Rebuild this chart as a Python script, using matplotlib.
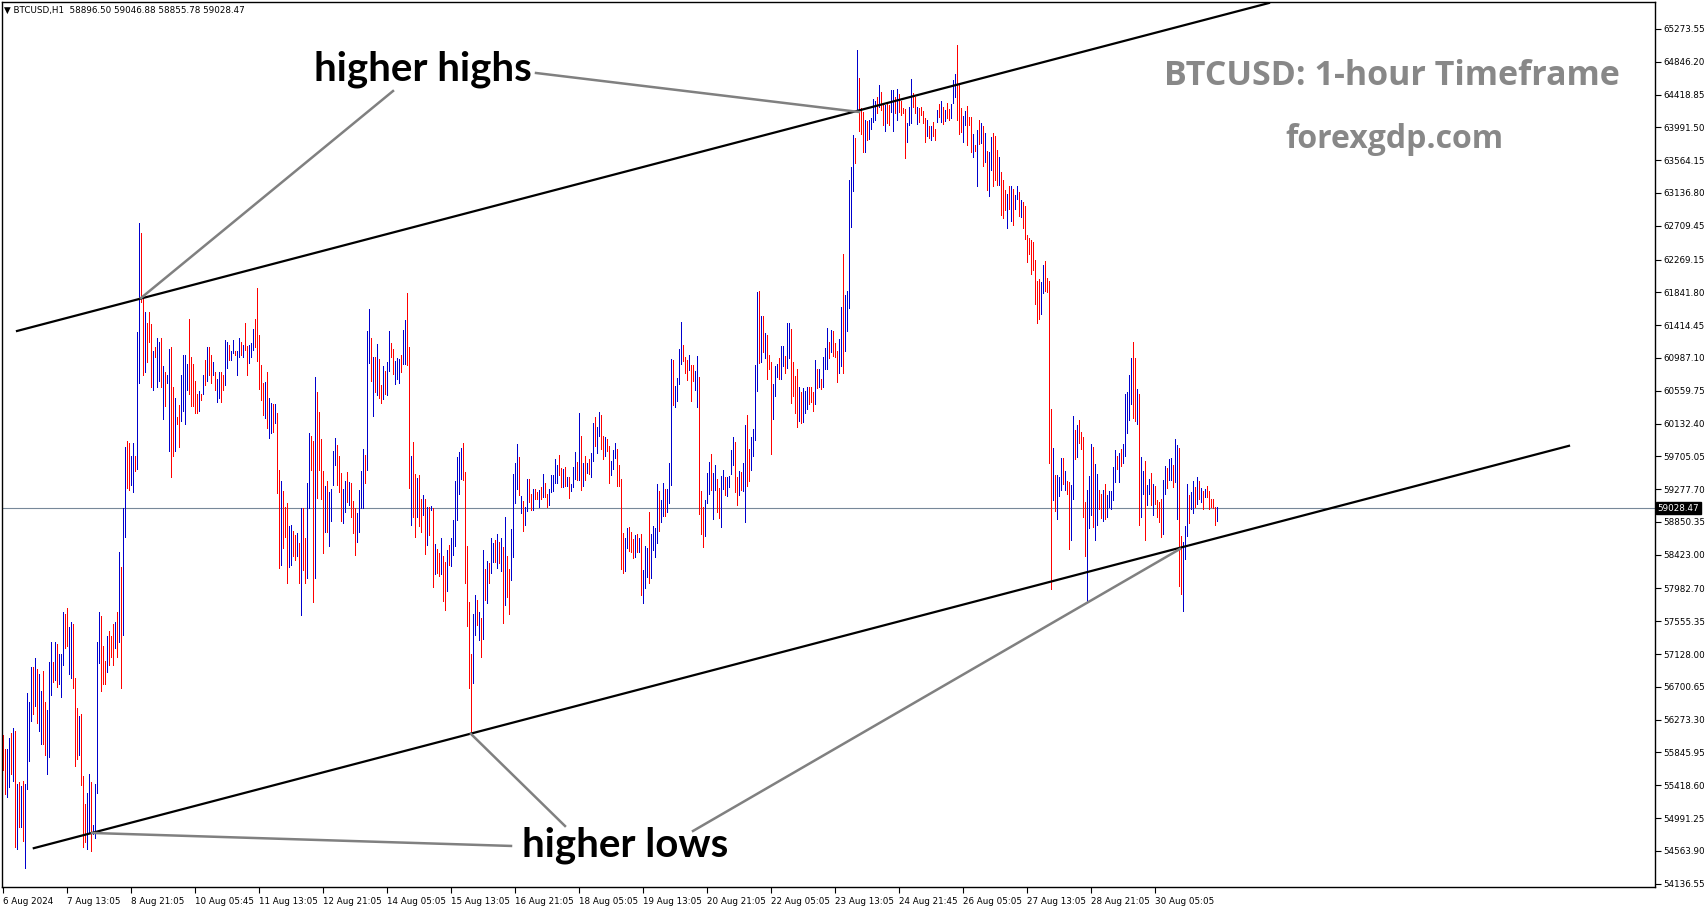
import matplotlib
matplotlib.use("Agg")
import matplotlib.pyplot as plt
import numpy as np

# header of the MT4 chart window
header = "BTCUSD,H1  58896.50 59046.88 58855.78 59028.47"
last_price = 59028.47

# hourly bars (high / low), 6 Aug 2024 00:00 -> 30 Aug 2024 midday
highs = [
    # 6 Aug - 8 Aug
    56080, 55890, 55890, 56040, 56100, 56170, 56130, 55430, 55460, 55410,
    55480, 55430, 56620, 56510, 56960, 56960, 57080, 56930, 56875, 56650,
    56910, 56510, 56400, 57025, 57290, 57025, 57290, 57260, 57125, 57135,
    57680, 57655, 57735, 57485, 57540, 57515, 56820, 56430, 56320, 56345,
    55540, 55175, 55315, 55565, 55465, 54900, 55430, 57290, 57680, 57625,
    57235, 57040, 57360, 57430, 57360, 57515, 57540, 57680, 58460, 58265,
    59035, 59825, 59910, 59880, 59715, 59880, 59715, 61330, 62750, 62610,
    61770, 61580, 61440, 61580, 61425, 61080, 61130, 61245, 61190, 61245,
    60880, 60800, 60770, 61105, 61130, 60605, 60465, 60215, 60380, 60770,
    61020, 61020, 60910, 61495, 60995, 60910, 60690, 60520, 60550, 60520,
    60770, 60965, 61130, 61130, 61020, 60940, 60800, 60715, 60800, 60800,
    60770, 61215, 61190, 61160, 61075, 61215, 61075, 61075, 61245, 61190,
    61160,
    # 11 Aug - 15 Aug
    61438, 61143, 61156, 61186, 61360, 61490, 61894, 61286, 60895, 60656,
    60678, 60808, 60461, 60396, 60383, 60387, 60266, 59527, 59388, 59258,
    59050, 59093, 58798, 58811, 58737, 58680, 58702, 58580, 59028, 59028,
    58646, 59353, 60005, 59970, 59910, 60735, 60539, 60287, 59931, 59519,
    59319, 59388, 59245, 59275, 59779, 59940, 59853, 59714, 59492, 59275,
    59388, 59505, 59375, 59353, 59128, 59028, 58972, 59266, 59519, 59797,
    59723, 61338, 61620, 61243, 61004, 60995, 61169, 60969, 60635, 60882,
    60821, 60938, 61338, 61186, 61100, 60952, 60982, 60969, 61026, 61351,
    61482, 61838, 61134, 59710, 59896, 59475, 59419, 59462, 59145, 59202,
    59145, 59041, 59050, 59058, 59028, 58563, 58494, 58450, 58637, 58407,
    58333, 58485, 58550, 58637, 58876, 59388, 59701, 59766, 59810, 59875,
    59505, 58537, 57812, 57130, 57651, 57899, 57834, 57681, 57595, 58485,
    58233, 58342, 58311,
    # 16 Aug - 20 Aug
    58636, 58580, 58615, 58693, 58593, 58636, 58528, 58919, 58406, 58233,
    58754, 59475, 59614, 59866, 59701, 59188, 59127, 59049, 59405, 59405,
    59214, 59275, 59275, 59244, 59266, 59301, 59475, 59362, 59214, 59275,
    59462, 59462, 59666, 59592, 59722, 59549, 59536, 59562, 59432, 59432,
    59344, 59562, 59757, 59636, 60265, 59970, 59622, 59709, 59622, 59666,
    59753, 60135, 60222, 60083, 60287, 60243, 59970, 59953, 59926, 59839,
    59649, 59788, 59883, 59796, 59592, 59405, 58710, 58636, 58767, 58780,
    58723, 58623, 58680, 58693, 58636, 58689, 58224, 58537, 58506, 58984,
    58693, 58797, 58767, 59344, 59257, 59136, 59362, 59275, 59275, 59622,
    60969, 60960, 60621, 60721, 61099, 61459, 61155, 60995, 60960, 61025,
    60895, 60895, 60821, 61012, 60743, 59257, 59049, 59136, 59492, 59636,
    59735, 59492, 59592, 59405, 59288, 59449, 59527, 59431, 59431, 59449,
    59788, 59961,
    # 21 Aug - 25 Aug
    59889, 59439, 59514, 59499, 59614, 60113, 60238, 59799, 59963, 60063,
    60897, 61845, 61860, 61536, 61536, 61311, 61286, 61027, 60937, 60647,
    60887, 60912, 60987, 61136, 61136, 61012, 61436, 61436, 61361, 60937,
    60747, 60847, 60612, 60547, 60597, 60562, 60612, 60612, 60612, 60537,
    60962, 60837, 60837, 60712, 60997, 61111, 61376, 61196, 61346, 61336,
    61186, 61077, 61236, 61645, 62345, 61810, 61860, 63308, 63473, 63892,
    63857, 65005, 64641, 64242, 64192, 64092, 64072, 64082, 64107, 64356,
    64341, 64391, 64541, 64456, 64306, 64282, 64321, 64282, 64481, 64481,
    64391, 64491, 64431, 64341, 64242, 64232, 64042, 64257, 64621, 64441,
    64391, 64257, 64242, 64257, 64207, 64107, 64082, 64007, 64007, 64057,
    63972, 64222, 64291, 64341, 64257, 64222, 64306, 64232, 64291, 64606,
    64681, 65070, 64541, 64242, 64142, 64207, 64272, 64132, 64122, 63907,
    63757, 63957, 64082,
    # 26 Aug - 30 Aug
    64042, 64007, 63922, 63682, 63672, 63872, 63922, 63882, 63692, 63607,
    63408, 63308, 63173, 63123, 63233, 63223, 63193, 63108, 63233, 63143,
    63043, 63023, 62973, 62594, 62544, 62524, 62494, 62260, 61995, 62010,
    61975, 62195, 62245, 62025, 61985, 60328, 59814, 59464, 59464, 59439,
    59679, 59679, 59514, 59379, 59364, 59329, 60228, 60048, 60113, 60178,
    60028, 59963, 59115, 59265, 59449, 59864, 59829, 59599, 59479, 59265,
    59215, 59265, 59349, 59200, 59250, 59250, 59564, 59789, 59714, 59749,
    59799, 59864, 60513, 60548, 60762, 60987, 61196, 60987, 60587, 60513,
    59699, 59514, 59649, 59329, 59414, 59489, 59339, 59314, 59130, 59115,
    59150, 59399, 59579, 59549, 59664, 59679, 59589, 59928, 59849, 59814,
    58665, 58590, 58800, 59349, 59200, 59240, 59389, 59299, 59439, 59379,
    59290, 59250, 59280, 59314, 59250, 59150, 59150, 59050, 59047,
]

lows = [
    # 6 Aug - 8 Aug
    55620, 55300, 55260, 55400, 55565, 55480, 54620, 54590, 54870, 54870,
    54690, 54340, 55370, 55730, 56260, 56345, 56455, 56230, 56120, 55955,
    55955, 55815, 55565, 55790, 56595, 56760, 56790, 56705, 56735, 56570,
    56985, 57210, 57235, 56875, 56820, 56680, 55675, 55760, 55815, 55425,
    54620, 54675, 54590, 54815, 54563, 54785, 54730, 55315, 57015, 56650,
    56735, 56735, 56900, 56985, 57095, 56985, 57210, 57095, 57290, 56680,
    57375, 58655, 59295, 59270, 59325, 59240, 59520, 59545, 60660, 61720,
    60770, 60800, 60940, 61190, 60605, 60575, 60995, 60605, 60690, 60605,
    60190, 60355, 60660, 59770, 59435, 59715, 59770, 60130, 59825, 60160,
    60300, 60130, 60575, 60520, 60355, 60355, 60270, 60270, 60300, 60440,
    60520, 60630, 60690, 60770, 60660, 60770, 60575, 60410, 60465, 60410,
    60575, 60630, 60855, 60965, 60965, 61050, 61020, 60770, 60995, 61020,
    60995,
    # 11 Aug - 15 Aug
    61091, 60765, 60917, 60995, 61091, 61126, 60952, 60578, 60439, 60244,
    60200, 60070, 59940, 60005, 60027, 60144, 59232, 58246, 58290, 58507,
    58650, 58050, 58268, 58290, 58407, 58355, 58407, 58059, 57638, 58224,
    58059, 58116, 59028, 59527, 57803, 58116, 59158, 59527, 59145, 58450,
    58724, 58724, 58537, 58867, 59332, 59592, 59332, 59245, 58867, 58841,
    58984, 59115, 59071, 58920, 58711, 58420, 58594, 58724, 59028, 59028,
    59362, 59527, 60917, 60691, 60231, 60548, 60504, 60461, 60396, 60448,
    60517, 60504, 60821, 60995, 60778, 60648, 60708, 60665, 60808, 60908,
    60908, 60895, 59288, 58811, 58920, 58650, 58920, 58798, 58724, 58941,
    58433, 58550, 58680, 59006, 58007, 58172, 58190, 58146, 58172, 57825,
    57703, 57955, 58290, 58277, 58420, 58537, 58876, 59215, 59406, 59397,
    58050, 57495, 56683, 56096, 56748, 57378, 57508, 57312, 57087, 57321,
    57834, 57790, 58050,
    # 16 Aug - 20 Aug
    58180, 58332, 58332, 58246, 58311, 58215, 57529, 57768, 57868, 57651,
    58093, 58398, 59093, 59275, 59201, 58962, 58736, 58810, 58997, 59114,
    59006, 59006, 59145, 59145, 59049, 59145, 59179, 59170, 59049, 59071,
    59244, 59257, 59353, 59353, 59462, 59301, 59310, 59318, 59318, 59158,
    59257, 59310, 59405, 59397, 59397, 59266, 59318, 59397, 59484, 59475,
    59432, 59649, 59839, 59753, 59970, 59796, 59666, 59709, 59779, 59353,
    59462, 59536, 59679, 59318, 59318, 58233, 58189, 58215, 58506, 58476,
    58463, 58376, 58389, 58463, 58463, 57898, 57798, 57985, 58137, 58059,
    58115, 58485, 58389, 58571, 58736, 58854, 58927, 58927, 58984, 59093,
    59331, 60374, 60343, 60430, 60647, 60908, 60951, 60786, 60699, 60830,
    60430, 60691, 60569, 60352, 58954, 58693, 58528, 58667, 59093, 59214,
    59266, 58884, 59266, 58984, 58897, 58780, 59275, 59201, 59188, 59310,
    59475, 59592,
    # 21 Aug - 25 Aug
    59240, 59065, 59200, 59265, 59250, 58850, 59314, 59379, 59529, 59714,
    59913, 60562, 60927, 60937, 61062, 60987, 60712, 60847, 59739, 60188,
    60487, 60737, 60712, 60712, 60887, 60797, 60862, 60987, 60398, 60487,
    60263, 60088, 60163, 60138, 60148, 60263, 60328, 60388, 60413, 60298,
    60388, 60597, 60612, 60577, 60612, 60837, 60837, 60987, 61062, 61012,
    60997, 60677, 60787, 60887, 60797, 61077, 61336, 61636, 62694, 63158,
    63532, 64231, 63942, 63907, 63672, 63672, 63822, 63842, 63972, 64057,
    64092, 64182, 64257, 64222, 64022, 63942, 64042, 64022, 64192, 63942,
    64182, 64092, 64192, 64157, 64182, 63592, 63807, 64022, 64042, 64257,
    64182, 64032, 64057, 64157, 64042, 63807, 63882, 63857, 63822, 63882,
    63832, 64057, 64132, 64057, 64032, 64072, 64107, 64082, 64107, 64306,
    64381, 64082, 63907, 63932, 63807, 64022, 63757, 64022, 63672, 63607,
    63682, 63233, 63772,
    # 26 Aug - 30 Aug
    63792, 63483, 63542, 63173, 63093, 63433, 63233, 63308, 63243, 63243,
    62844, 62809, 62909, 62674, 62934, 62774, 62724, 62934, 63058, 62834,
    62824, 62674, 62534, 62235, 62335, 62075, 62135, 61685, 61436, 61496,
    61561, 61835, 61860, 61845, 59614, 57981, 59140, 58990, 58890, 59190,
    59265, 59340, 59265, 59215, 58501, 58615, 59150, 59664, 59699, 59879,
    59799, 58915, 58401, 57817, 58765, 58940, 58780, 58615, 58815, 59015,
    58900, 58865, 58890, 58915, 59040, 59015, 59140, 59364, 59539, 59364,
    59579, 59614, 59714, 60013, 60178, 60388, 60198, 60163, 60128, 58815,
    58915, 59215, 58615, 59065, 59215, 59065, 58940, 59080, 58915, 58850,
    58650, 58690, 59215, 59290, 59399, 59399, 59300, 59364, 58890, 58016,
    57917, 57692, 58366, 58665, 58830, 59015, 58965, 59040, 59080, 59150,
    59115, 59015, 59180, 59180, 59015, 59040, 59030, 58815, 58856,
]

# b = bullish bar (blue), r = bearish bar (red)
dirs = (
    "rrbbrbrbrb rbbbbrbrbb rrbbbrbrbb brrbbrrrbr rrbbrbbbbr rrbrrrbrbr "
    "bbrrbbrbbr rbrrrbrbbr brbbrrbrrb bbbrrrrrbr brbrrbrbbr rbbrbbrbbrb "
    "rrbbbrrrrr brbbrbrrbr rrbbrrbrbr rbbrrbrrrr brbbbbrrrb brbrrrbbbb "
    "rbbrbrbrrb rbbrrbbbrb brrbrrbrrb rbrbrbrrbr rbrbbbbbbr rrrrbbrbrb rbr "
    "bbrbrbrbrr bbbbrbrbbr rbrrbrbrrb bbbbrrbrbr bbbrbrbrbr bbrbbrrbrr "
    "bbbrrrrbbr rrbrbrbbbr bbbbrbbrbb brbbbbrrrb rrbbrrrbbb rbbrrbbrbb bb "
    "rrbrbbrrbb bbrbrbrrrb bbrbbrbbrr rrbrbbbrrr brbrbbbrbr rrbbrbbbbb "
    "rbrrrbrbbb brbrrbrrbb rbrrrrbbbr rbrrrrbrbr rbrbrbrrbb brrrbbrrrb rbr "
    "brbrbbrrrb rrrbrbrbbr brrrrrrrrr bbrrrrbrbb brbrrbbrbr rrrbbbrbbr "
    "rbrbbbbbrb rbbbbbrrbr bbrbbrbrrr rbbrbbrbbr rbbbrbbrbr brbrrrrrb"
).replace(" ", "")

date_labels = [
    "6 Aug 2024", "7 Aug 13:05", "8 Aug 21:05", "10 Aug 05:45", "11 Aug 13:05",
    "12 Aug 21:05", "14 Aug 05:05", "15 Aug 13:05", "16 Aug 21:05", "18 Aug 05:05",
    "19 Aug 13:05", "20 Aug 21:05", "22 Aug 05:05", "23 Aug 13:05", "24 Aug 21:45",
    "26 Aug 05:05", "27 Aug 13:05", "28 Aug 21:05", "30 Aug 05:05",
]
bars_per_label = 32

price_ticks = [
    65273.55, 64846.20, 64418.85, 63991.50, 63564.15, 63136.80, 62709.45,
    62269.15, 61841.80, 61414.45, 60987.10, 60559.75, 60132.40, 59705.05,
    59277.70, 58850.35, 58423.00, 57982.70, 57555.35, 57128.00, 56700.65,
    56273.30, 55845.95, 55418.60, 54991.25, 54563.90, 54136.55,
]

# channel lines (bar index, price)
upper_channel = ([7, 633], [61338, 65612])
lower_channel = ([15.4, 783], [54599, 59842])

# grey pointer lines from the labels to the swing points
highs_pointers = [([195, 69], [64465, 61768]), ([266.5, 428], [64700, 64192])]
lows_pointers = [([254, 44.5], [54628, 54797]), ([281, 234], [54888, 56087]),
                 ([345, 588.5], [54823, 58498])]

n = len(highs)
x = np.arange(n)
cols = ["#0000cd" if d == "b" else "#ff0000" for d in dirs[:n]]

fig = plt.figure(figsize=(17.05, 9.09), dpi=100)
ax = fig.add_axes([2 / 1705, 22 / 909, 1653 / 1705, 885 / 909])

ax.axhline(last_price, color="#778899", lw=0.8, zorder=1)
ax.vlines(x, lows, highs, colors=cols, linewidth=0.5, antialiased=False, zorder=2)

ax.plot(*upper_channel, color="black", lw=1.6, zorder=3)
ax.plot(*lower_channel, color="black", lw=1.6, zorder=3)
for px, py in highs_pointers + lows_pointers:
    ax.plot(px, py, color="#808080", lw=1.8, zorder=3)

ax.text(210, 64752, "higher highs", fontsize=29, fontweight="bold", family="Lato",
        ha="center", va="center", zorder=4)
ax.text(311, 54641, "higher lows", fontsize=29, fontweight="bold", family="Lato",
        ha="center", va="center", zorder=4)

ax.set_xlim(-0.5, 826)
ax.set_ylim(54093, 65625)

ax.yaxis.tick_right()
ax.set_yticks(price_ticks)
ax.set_yticklabels([f"{v:.2f}" for v in price_ticks])
ax.set_xticks(np.arange(len(date_labels)) * bars_per_label)
ax.set_xticklabels(date_labels)
for lbl in ax.get_xticklabels():
    lbl.set_ha("left")
ax.tick_params(axis="both", direction="out", length=4, width=0.8, labelsize=6.3, pad=2)
ax.tick_params(axis="x", pad=3)
for s in ax.spines.values():
    s.set_color("black")
    s.set_linewidth(1.0)

ax.text(1.0015, last_price, f"{last_price:.2f}", transform=ax.get_yaxis_transform(),
        fontsize=6.3, color="white", ha="left", va="center",
        bbox=dict(boxstyle="square,pad=0.2", fc="black", ec="black"))

fig.text(4 / 1705, 1 - 10 / 909, "\u25bc " + header, fontsize=6.3, va="center", ha="left")
fig.text(1392 / 1705, 1 - 76 / 909, "BTCUSD: 1-hour Timeframe", fontsize=24.5,
         fontweight="bold", color="#888888", ha="center", va="center", family="Open Sans")
fig.text(1394 / 1705, 1 - 139 / 909, "forexgdp.com", fontsize=23,
         fontweight="bold", color="#888888", ha="center", va="center", family="Open Sans")

fig.savefig("out.png", dpi=100, facecolor="white")
